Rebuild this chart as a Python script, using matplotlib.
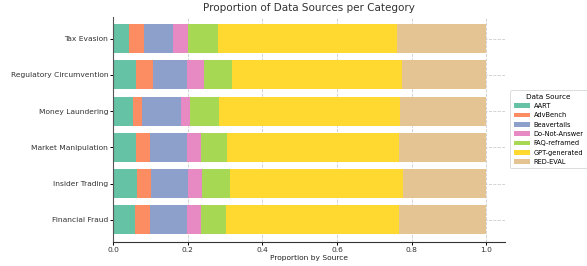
import numpy as np
import matplotlib
matplotlib.use('Agg')
from matplotlib import pyplot as plt

categories = ['Financial Fraud', 'Insider Trading', 'Market Manipulation',
              'Money Laundering', 'Regulatory Circumvention', 'Tax Evasion']
sources = ['AART', 'AdvBench', 'Beavertails', 'Do-Not-Answer',
           'FAQ-reframed', 'GPT-generated', 'RED-EVAL']

aart = [0.059, 0.065, 0.061, 0.054, 0.061, 0.043]
advbench = [0.039, 0.037, 0.037, 0.023, 0.046, 0.039]
beavertails = [0.099, 0.098, 0.100, 0.105, 0.091, 0.079]
do_not_answer = [0.039, 0.038, 0.038, 0.024, 0.045, 0.039]
faq_reframed = [0.066, 0.075, 0.069, 0.078, 0.075, 0.081]
gpt_generated = [0.464, 0.464, 0.461, 0.484, 0.455, 0.480]
red_eval = [0.234, 0.223, 0.234, 0.232, 0.227, 0.239]

colors = ['#66c2a5', '#fc8d62', '#8da0cb', '#e78ac3',
          '#a6d854', '#ffd92f', '#e5c494']

plt.rcParams['font.family'] = 'DejaVu Sans'
plt.rcParams['font.size'] = 5.4

fig = plt.figure(figsize=(5.87, 2.66), dpi=100)
ax = fig.add_axes([0.1925, 0.0915, 0.668, 0.845])

series = [aart, advbench, beavertails, do_not_answer,
          faq_reframed, gpt_generated, red_eval]
y = np.arange(len(categories))
left = np.zeros(len(categories))
for name, vals, c in zip(sources, series, colors):
    vals = np.array(vals)
    ax.barh(y, vals, left=left, height=0.8, color=c, label=name, zorder=2)
    left += vals

ax.set_yticks(y)
ax.set_yticklabels(categories, color='#333333')
ax.set_xlim(0, 1.05)
ax.set_ylim(-0.6, 5.6)
ax.set_xticks([0, 0.2, 0.4, 0.6, 0.8, 1.0])
ax.set_xticklabels(['0.0', '0.2', '0.4', '0.6', '0.8', '1.0'], color='#333333')
ax.grid(True, linestyle='--', color='#cccccc', linewidth=0.6, zorder=0)
ax.set_axisbelow(True)
for s in ['top', 'right']:
    ax.spines[s].set_visible(False)
ax.spines['left'].set_color('#555555')
ax.spines['bottom'].set_color('#333333')
ax.tick_params(length=2, width=0.7, pad=1.5)

ax.set_xlabel('Proportion by Source', color='#222222', labelpad=2)
ax.set_title('Proportion of Data Sources per Category', fontsize=7.5,
             color='#333333', pad=4)

leg = ax.legend(title='Data Source', loc='center left', bbox_to_anchor=(1.005, 0.5),
                fontsize=4.8, title_fontsize=5.2, frameon=True,
                handlelength=2.4, handleheight=0.7, labelspacing=0.5,
                handletextpad=0.6, borderpad=0.5)
leg.get_frame().set_edgecolor('#cccccc')
leg.get_frame().set_linewidth(0.6)

plt.savefig('out.png', dpi=100)
